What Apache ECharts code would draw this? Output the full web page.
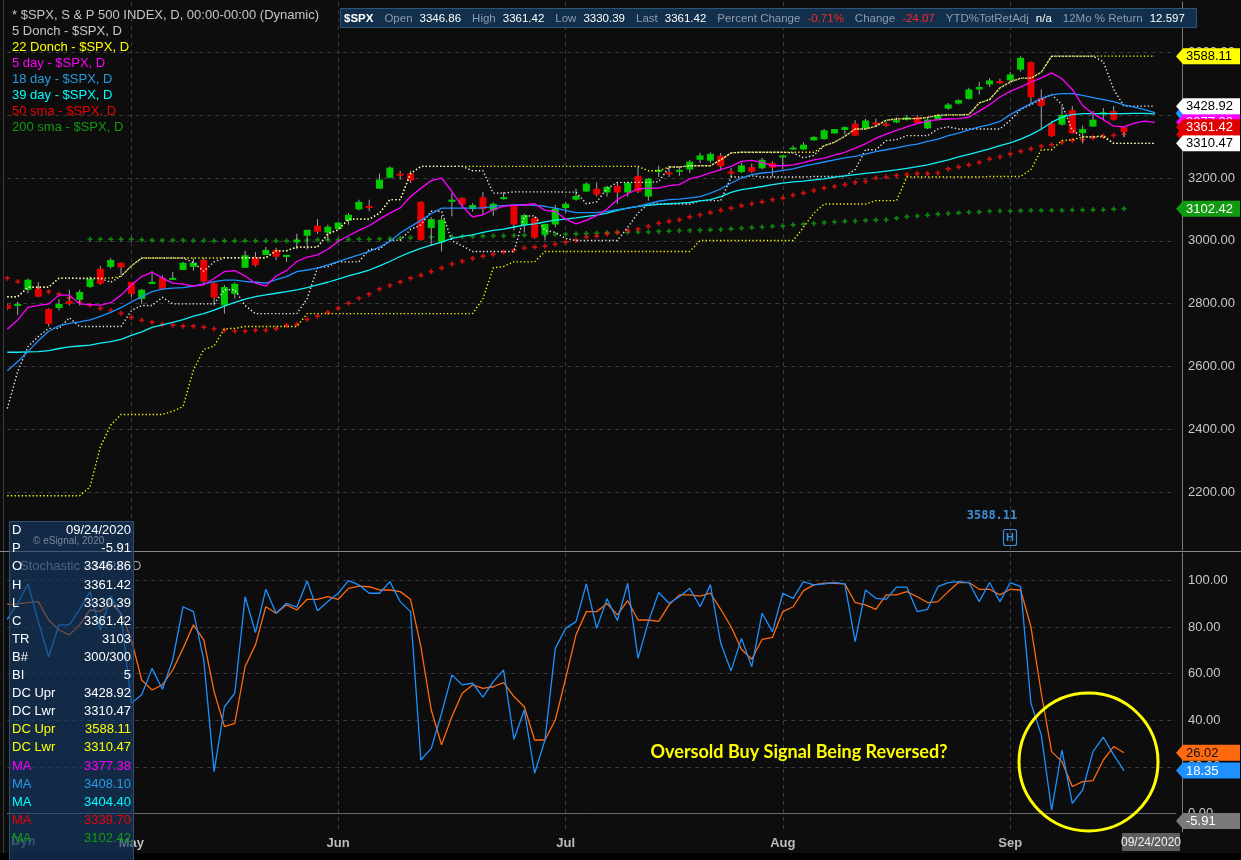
<!DOCTYPE html>
<html>
<head>
<meta charset="utf-8">
<title>$SPX daily with Donchian, MAs and Stochastic</title>
<script src="https://cdn.jsdelivr.net/npm/echarts@6/dist/echarts.min.js"></script>
<style>
  html, body { margin: 0; padding: 0; background: #0d0d0d; }
  #chart { width: 1241px; height: 860px; }
</style>
</head>
<body>
<div id="chart"></div>
<script>
// ---- values; index 0 = leftmost (partly hidden) bar ----
const slotCount = 114;
const monthIdx = [12, 32, 54, 75, 97];
const monthNames = ['May', 'Jun', 'Jul', 'Aug', 'Sep'];

const open = [2797,2794,2844,2846,2783,2786,2808,2812,2853,2911,
  2917,2930,2869,2815,2863,2882,2877,2907,2917,2939,
  2865,2794,2831,2914,2948,2955,2971,2950,2995,3016,
  3048,3026,3038,3064,3100,3111,3166,3201,3214,3214,
  3124,3041,2995,3124,3137,3101,3139,3097,3133,3114,
  3050,3073,3020,3052,3104,3131,3157,3166,3154,3175,
  3154,3207,3141,3221,3218,3221,3227,3258,3255,3271,
  3221,3219,3235,3231,3248,3267,3291,3291,3320,3324,
  3342,3353,3373,3358,3377,3373,3377,3386,3394,3358,
  3386,3421,3437,3452,3482,3498,3509,3511,3545,3569,
  3455,3374,3370,3416,3343,3364,3403,3413,3361.42];
const close = [2783,2799,2876,2822,2735,2799,2799,2837,2879,2863,
  2939,2915,2831,2844,2869,2847,2882,2930,2930,2870,
  2819,2853,2863,2954,2922,2971,2949,2955,3003,3035,
  3029,3045,3058,3083,3124,3106,3195,3233,3208,3192,
  3003,3069,3067,3131,3116,3114,3101,3118,3139,3052,
  3082,3010,3054,3102,3118,3143,3182,3147,3172,3154,
  3185,3157,3198,3226,3212,3226,3252,3272,3277,3237,
  3214,3240,3220,3258,3233,3272,3297,3306,3331,3352,
  3356,3362,3335,3383,3371,3368,3384,3393,3375,3386,
  3399,3434,3448,3482,3490,3511,3502,3530,3583,3457,
  3429,3333,3401,3342,3356,3386,3409,3386,3346.86];
const high = [2800,2806,2880,2868,2785,2814,2844,2844,2887,2920,
  2945,2931,2869,2847,2903,2890,2901,2933,2946,2946,
  2872,2859,2867,2968,2964,2980,2978,2955,3022,3035,
  3069,3051,3060,3088,3131,3131,3214,3237,3223,3223,
  3126,3075,3080,3152,3139,3120,3156,3122,3155,3118,
  3086,3076,3054,3114,3124,3166,3186,3186,3175,3184,
  3188,3235,3200,3239,3239,3237,3258,3280,3282,3280,
  3232,3248,3246,3264,3254,3272,3303,3314,3333,3356,
  3356,3365,3384,3388,3389,3379,3393,3400,3401,3391,
  3402,3439,3450,3487,3506,3518,3516,3537,3588.11,3571,
  3482,3382,3429,3429,3367,3413,3423,3429,3361.42];
const low = [2780,2764,2833,2820,2727,2778,2794,2794,2850,2860,
  2912,2892,2820,2799,2862,2844,2876,2907,2905,2865,
  2794,2768,2816,2914,2918,2955,2939,2933,2973,2973,
  3022,3002,3036,3051,3097,3094,3166,3199,3195,3184,
  3000,2984,2966,3078,3110,3093,3082,3080,3131,3033,
  3027,3007,3001,3043,3088,3128,3156,3141,3141,3117,
  3141,3152,3128,3203,3203,3207,3216,3248,3248,3224,
  3203,3216,3216,3227,3205,3227,3290,3290,3319,3322,
  3341,3339,3335,3356,3363,3363,3375,3383,3375,3356,
  3384,3418,3434,3450,3466,3490,3500,3505,3539,3434,
  3352,3331,3367,3341,3310.47,3363,3388,3383,3330.39];

// indicator lines as drawn (they run 3 bars past the last candle)
const don5Upper = [2822,2822,2852,2852,2852,2881,2881,2880,2880,2880,
  2868,2887,2920,2945,2945,2945,2945,2945,2931,2903,
  2933,2946,2946,2946,2946,2946,2968,2968,2980,2980,
  2980,3022,3035,3069,3069,3069,3088,3131,3131,3214,
  3237,3237,3237,3237,3237,3223,3223,3152,3152,3156,
  3156,3156,3156,3156,3155,3155,3118,3124,3166,3186,
  3186,3186,3186,3188,3235,3235,3239,3239,3239,3258,
  3280,3282,3282,3282,3282,3282,3280,3264,3272,3303,
  3314,3333,3356,3356,3365,3384,3388,3389,3389,3393,
  3400,3401,3401,3402,3439,3450,3487,3506,3518,3518,
  3537,3588,3588,3588,3588,3588,3571,3482,3429,3429,
  3429,3428.92];
const don5Lower = [2466,2583,2663,2695,2721,2721,2755,2727,2727,2727,
  2727,2727,2778,2794,2794,2820,2799,2799,2799,2799,
  2799,2844,2844,2794,2768,2768,2768,2768,2768,2816,
  2914,2918,2933,2933,2933,2973,2973,3002,3002,3036,
  3051,3094,3094,3000,2984,2966,2966,2966,2966,2966,
  3078,3080,3033,3027,3007,3001,3001,3001,3001,3001,
  3043,3088,3117,3117,3117,3117,3117,3128,3128,3128,
  3203,3203,3207,3203,3203,3203,3203,3203,3205,3205,
  3205,3205,3227,3290,3290,3319,3322,3335,3335,3335,
  3356,3363,3356,3356,3356,3356,3356,3384,3418,3434,
  3450,3466,3434,3352,3331,3331,3331,3310.47,3310.47,3310.47,
  3310.47,3310.47];
const don22Upper = [2822,2822,2852,2852,2852,2881,2881,2881,2881,2881,
  2881,2887,2920,2945,2945,2945,2945,2945,2945,2945,
  2945,2946,2946,2946,2946,2946,2968,2968,2980,2980,
  2980,3022,3035,3069,3069,3069,3088,3131,3131,3214,
  3237,3237,3237,3237,3237,3237,3237,3237,3237,3237,
  3237,3237,3237,3237,3237,3237,3237,3237,3237,3237,
  3237,3237,3223,3223,3235,3235,3239,3239,3239,3258,
  3280,3282,3282,3282,3282,3282,3282,3282,3282,3303,
  3314,3333,3356,3356,3365,3384,3388,3389,3389,3393,
  3400,3401,3401,3402,3439,3450,3487,3506,3518,3518,
  3537,3588.11,3588.11,3588.11,3588.11,3588.11,3588.11,3588.11,3588.11,3588.11,
  3588.11,3588.11];
const don22Lower = [2188,2188,2188,2188,2188,2188,2188,2188,2216,2344,
  2413,2447,2447,2447,2447,2447,2457,2472,2588,2654,
  2665,2720,2721,2727,2727,2727,2727,2727,2727,2768,
  2768,2768,2768,2768,2768,2768,2768,2768,2768,2768,
  2768,2768,2768,2768,2768,2768,2816,2914,2918,2933,
  2933,2933,2966,2966,2966,2966,2966,2966,2966,2966,
  2966,2966,2966,2966,2966,2966,2966,3001,3001,3001,
  3001,3001,3001,3001,3001,3001,3001,3043,3088,3117,
  3117,3117,3117,3117,3128,3128,3128,3203,3203,3203,
  3203,3203,3203,3203,3203,3205,3205,3205,3205,3227,
  3290,3290,3319,3322,3331,3331,3335,3310.47,3310.47,3310.47,
  3310.47,3310.47];
const ma5 = [2718,2748,2788,2794,2799,2827,2827,2799,2797,2795,
  2803,2827,2859,2886,2900,2881,2865,2862,2856,2860,
  2880,2902,2905,2888,2865,2856,2888,2905,2934,2948,
  2955,2973,2998,3016,3033,3048,3069,3088,3105,3141,
  3167,3192,3200,3157,3110,3076,3083,3099,3110,3113,
  3114,3118,3097,3094,3069,3054,3065,3080,3101,3131,
  3150,3165,3168,3168,3176,3179,3197,3205,3216,3227,
  3237,3253,3256,3250,3239,3239,3242,3249,3258,3263,
  3273,3282,3295,3309,3326,3340,3352,3363,3373,3381,
  3386,3388,3389,3394,3413,3433,3458,3476,3490,3505,
  3519,3535,3516,3482,3431,3405,3386,3365,3363,3375,
  3381,3377.38];
const ma18 = [2586,2615,2647,2682,2712,2729,2737,2742,2748,2759,
  2772,2787,2805,2822,2838,2846,2849,2851,2856,2863,
  2870,2875,2875,2871,2868,2865,2876,2886,2902,2907,
  2913,2923,2934,2945,2955,2966,2980,2998,3025,3045,
  3065,3086,3104,3104,3104,3104,3105,3110,3112,3114,
  3115,3113,3110,3104,3097,3090,3090,3090,3094,3099,
  3104,3110,3118,3126,3131,3133,3137,3141,3152,3165,
  3184,3200,3211,3216,3219,3224,3229,3238,3244,3251,
  3258,3264,3269,3276,3284,3290,3296,3303,3308,3317,
  3324,3335,3343,3353,3363,3370,3380,3402,3420,3437,
  3454,3465,3469,3469,3463,3456,3450,3443,3433,3426,
  3418,3408.10];
const ma39 = [2645,2645,2646,2647,2650,2657,2662,2665,2668,2674,
  2679,2686,2699,2710,2724,2732,2740,2749,2760,2768,
  2779,2792,2804,2814,2822,2828,2833,2838,2844,2851,
  2860,2868,2878,2888,2897,2907,2920,2934,2950,2964,
  2976,2986,2996,3008,3014,3019,3027,3033,3037,3044,
  3050,3054,3060,3066,3069,3073,3078,3082,3088,3097,
  3104,3110,3113,3116,3118,3120,3122,3127,3131,3141,
  3154,3163,3168,3173,3179,3184,3188,3190,3194,3197,
  3203,3207,3211,3215,3218,3222,3226,3231,3236,3242,
  3250,3258,3267,3275,3284,3293,3303,3312,3324,3338,
  3356,3377,3394,3402,3405,3405,3405,3405,3405,3406,
  3406,3404.40];
const sma50 = [2881,2870,2860,2849,2838,2830,2818,2806,2795,2785,
  2778,2769,2756,2747,2741,2734,2731,2728,2728,2725,
  2720,2715,2712,2712,2715,2715,2720,2731,2734,2750,
  2760,2772,2785,2801,2817,2830,2846,2858,2869,2881,
  2890,2902,2913,2926,2935,2944,2951,2957,2964,2970,
  2977,2980,2983,2989,2996,3002,3012,3015,3022,3027,
  3033,3037,3046,3056,3062,3067,3076,3083,3090,3097,
  3104,3112,3118,3124,3131,3136,3145,3152,3160,3168,
  3173,3179,3186,3189,3200,3203,3208,3211,3214,3214,
  3216,3229,3235,3242,3250,3261,3267,3277,3285,3293,
  3301,3306,3314,3320,3322,3328,3333,3336,3339.70];
const sma200 = [null,null,null,null,null,null,null,null,3005,3005,
  3005,3005,3005,3003,3002,3002,3002,3002,3001,3001,
  3000,3000,3000,3000,3000,3000,3000,3000,3002,3002,
  3003,3003,3003,3004,3005,3005,3006,3007,3008,3010,
  3011,3012,3012,3013,3014,3014,3015,3016,3016,3017,
  3018,3019,3019,3020,3021,3022,3023,3024,3026,3027,
  3027,3028,3028,3030,3031,3032,3033,3034,3035,3036,
  3038,3040,3042,3044,3046,3048,3051,3053,3055,3058,
  3060,3062,3063,3065,3066,3067,3072,3077,3079,3082,
  3085,3087,3089,3091,3092,3094,3095,3095,3096,3097,
  3097,3097,3097,3098,3098,3099,3099,3101,3102.42];

// stochastic %K (blue) and %D (orange)
const stochK = [83.4,90.3,98.6,82.4,67.3,81,81,87.7,95.3,78.8,
  93.4,85.3,47.3,51,62.3,53.3,66,88.8,86.7,66,
  17.9,45.8,51.6,93.1,77.7,96.3,86,90.3,88.6,99.9,
  87.1,91,94.6,100,98.2,94.6,94.6,99.6,91,86.7,
  22.9,27.9,43,59.5,55.2,55.9,49.9,56.6,61.6,31.8,
  44.4,17.2,31.5,70.9,79.5,82.4,98.6,79.5,92.2,82.9,
  98.9,66.6,82.4,94.9,90.3,93.1,96.7,88.8,98.2,73.1,
  61.2,75.2,63,86,78.1,94.6,92.4,99.6,98.2,98.6,
  99.2,98.6,73.8,96,92.4,92,97.2,97.2,86.7,87.7,
  97.4,99.2,99.6,99.2,91,99.2,91,99.2,97.4,47.3,
  33.7,1.4,27.2,4.3,10,26.5,32.7,25.1,18.35];
const stochD = [89.8,90,90.6,91,83.1,78.8,76.7,81,87.4,86.7,
  90.3,86,74.5,57.3,53,55.2,61.6,70.9,81,74.5,
  52.3,37.3,38.7,63.1,72.4,88.8,86,89.6,87.4,92,
  92,93.1,92,96.7,97.7,97.4,96,96,95.3,92,
  71.6,44.4,29.4,41.6,51.6,55.2,53.7,54.4,56.2,50.2,
  45.8,31.5,31.5,40.1,58,76.7,86.7,86.7,90.2,85.3,
  91.4,83.1,83.1,82.5,89.6,93.9,93.9,93.4,94.6,87.7,
  80.2,70.5,66.2,74.8,75.6,86.7,88.8,95.7,98.2,98.9,
  98.9,98.6,90.6,89.6,87.7,93.9,93.9,95.3,93.1,90.6,
  91,95.3,99.2,99.2,96.3,96.3,93.9,96.3,96,80.2,
  51.6,26.5,22.2,11.5,13.6,14,22.9,28.7,26.02];

// right-edge value tags (drawn bottom to top)
const priceTagValues = [3102.42, 3339.70, 3404.40, 3408.10, 3377.38, 3428.92, 3310.47, 3361.42, 3588.11];
const stochTagValues = [26.02, 18.35, -5.91];

// texts
const legendLines = ['* $SPX, S & P 500 INDEX, D, 00:00-00:00 (Dynamic)', '5 Donch - $SPX, D', '22 Donch - $SPX, D',
  '5 day - $SPX, D', '18 day - $SPX, D', '39 day - $SPX, D', '50 sma - $SPX, D', '200 sma - $SPX, D'];
const quoteSymbol = '$SPX';
const quoteLabels = ['Open', 'High', 'Low', 'Last', 'Percent Change', 'Change', 'YTD%TotRetAdj', '12Mo % Return'];
const quoteValues = ['3346.86', '3361.42', '3330.39', '3361.42', '-0.71%', '-24.07', 'n/a', '12.597'];
const infoLabels = ['D', 'P', 'O', 'H', 'L', 'C', 'TR', 'B#', 'BI', 'DC Upr', 'DC Lwr', 'DC Upr', 'DC Lwr', 'MA', 'MA', 'MA', 'MA', 'MA'];
const infoValues = ['09/24/2020', '-5.91', '3346.86', '3361.42', '3330.39', '3361.42', '3103', '300/300', '5',
  '3428.92', '3310.47', '3588.11', '3310.47', '3377.38', '3408.10', '3404.40', '3339.70', '3102.42'];
const noteText = 'Oversold Buy Signal Being Reversed?';
const highMarkText = '3588.11';
const cursorDate = '09/24/2020';

// ---- chart ----
const FONT = '"Liberation Sans", Arial, sans-serif';
const cats = Array.from({ length: slotCount }, (_, i) => String(i));
const candleData = open.map((o, i) => [i, o, close[i], low[i], high[i]]);
const isMonth = (i) => monthIdx.indexOf(i) >= 0;

const chart = echarts.init(document.getElementById('chart'));

function xAxisFor(gridIndex, showLabels) {
  return {
    type: 'category', gridIndex: gridIndex, data: cats, boundaryGap: false,
    axisLine: { show: showLabels, lineStyle: { color: '#6a6a6a' } },
    axisTick: { show: false },
    axisLabel: {
      show: showLabels, interval: (i) => isMonth(i),
      formatter: (v) => monthNames[monthIdx.indexOf(+v)] || '',
      color: '#bdbdbd', fontSize: 13, fontWeight: 'bold', fontFamily: FONT, margin: 5
    },
    splitLine: { show: true, interval: (i) => isMonth(i), lineStyle: { color: '#3b3b3b', type: [4, 4] } }
  };
}

function yAxisFor(gridIndex, min, max, splitNumber) {
  return {
    type: 'value', gridIndex: gridIndex, position: 'right', offset: 6.3,
    min: min, max: max, splitNumber: splitNumber,
    axisLine: { show: true, lineStyle: { color: '#7a7a7a' } },
    axisTick: { show: false },
    axisLabel: {
      color: '#c8c8c8', fontSize: 13, fontFamily: FONT, margin: 6,
      showMinLabel: false, showMaxLabel: false, formatter: (v) => v.toFixed(2)
    },
    splitLine: { show: true, showMinLine: false, showMaxLine: false, lineStyle: { color: '#3b3b3b', type: [4, 4] } }
  };
}

function lineSeries(data, color, dotted, xi) {
  return {
    type: 'line', data: data, xAxisIndex: xi || 0, yAxisIndex: xi || 0, z: 3,
    symbol: 'none', silent: true, connectNulls: false,
    lineStyle: { color: color, width: dotted ? 1.4 : 1.3, type: dotted ? [1.3, 2.3] : 'solid' }
  };
}

const plus = 'path://M2,0h2v2h2v2h-2v2h-2v-2h-2v-2h2z';

chart.setOption({
  backgroundColor: '#0d0d0d',
  animation: false,
  grid: [
    { left: 7.3, top: 2, width: 1168.4, height: 548, containLabel: false, outerBoundsMode: 'none' },
    { left: 7.3, top: 553, width: 1168.4, height: 279, containLabel: false, outerBoundsMode: 'none' }
  ],
  xAxis: [xAxisFor(0, false), xAxisFor(1, true)],
  yAxis: [yAxisFor(0, 2015.2, 3760.6, 9), yAxisFor(1, -8.05, 111.9, 6)],
  series: [
    { type: 'scatter', data: sma200, symbol: plus, symbolSize: 5, z: 1, silent: true, itemStyle: { color: '#12a012' } },
    { type: 'scatter', data: sma50, symbol: plus, symbolSize: 5, z: 1, silent: true, itemStyle: { color: '#ff1010' } },
    {
      type: 'custom', name: '$SPX', data: candleData, z: 2, clip: true, silent: true,
      encode: { x: 0, y: [1, 2, 3, 4] },
      renderItem: function (params, api) {
        const i = api.value(0);
        const o = api.value(1), c = api.value(2), l = api.value(3), h = api.value(4);
        const pO = api.coord([i, o]), pC = api.coord([i, c]);
        const pL = api.coord([i, l]), pH = api.coord([i, h]);
        const w = api.size([1, 0])[0] * 0.68;
        const top = Math.min(pO[1], pC[1]);
        const bh = Math.max(2, Math.abs(pO[1] - pC[1]));
        return {
          type: 'group',
          children: [
            { type: 'line', shape: { x1: pL[0], y1: pL[1], x2: pH[0], y2: pH[1] }, style: { stroke: '#a3a3a3', lineWidth: 1 } },
            { type: 'rect', shape: { x: pO[0] - w / 2, y: top, width: w, height: bh }, style: { fill: c >= o ? '#00cc00' : '#e80000' } }
          ]
        };
      }
    },
    lineSeries(don22Lower, '#ffff00', true),
    lineSeries(don22Upper, '#ffff00', true),
    lineSeries(don5Lower, '#f0f0f0', true),
    lineSeries(don5Upper, '#f0f0f0', true),
    lineSeries(ma39, '#10f0f8', false),
    lineSeries(ma18, '#1e90ff', false),
    lineSeries(ma5, '#ff00ff', false),
    lineSeries(stochD, '#ff6a10', false, 1),
    lineSeries(stochK, '#1e90ff', false, 1)
  ]
});

// ---- overlays ----
function txt(text, x, y, fill, font, align, z) {
  return {
    type: 'text', z: z || 100, silent: true,
    style: { text: text, x: x, y: y, fill: fill, font: font, textAlign: align || 'left', align: align || 'left',
      textVerticalAlign: 'middle', verticalAlign: 'middle' }
  };
}

function tag(y, label, bg, fg, z) {
  return [
    { type: 'polygon', z: z, silent: true,
      shape: { points: [[1176, y], [1183, y - 8], [1240, y - 8], [1240, y + 8], [1183, y + 8]] }, style: { fill: bg } },
    txt(label, 1186, y + 0.5, fg, '13px ' + FONT, 'left', z + 1)
  ];
}

const g = [];
// frame and separators
g.push({ type: 'rect', z: 5, silent: true, shape: { x: 0, y: 853, width: 1241, height: 7 }, style: { fill: '#000' } });
g.push({ type: 'line', z: 6, silent: true, shape: { x1: 3.5, y1: 0, x2: 3.5, y2: 853 }, style: { stroke: '#3c3c3c', lineWidth: 1 } });
g.push({ type: 'line', z: 6, silent: true, shape: { x1: 0, y1: 551.5, x2: 1241, y2: 551.5 }, style: { stroke: '#8a8a8a', lineWidth: 1 } });

// legend block
const legendColors = ['#c6c6c6', '#c6c6c6', '#ffff00', '#ff00ff', '#2a9ae0', '#00ffff', '#ee0000', '#139a13'];
legendLines.forEach((s, k) => g.push(txt(s, 12, 15 + 16 * k, legendColors[k], '13px ' + FONT)));

// quote header
g.push({ type: 'rect', z: 99, silent: true, shape: { x: 340.5, y: 8.5, width: 856, height: 19 }, style: { fill: '#12304c', stroke: '#2c5677', lineWidth: 1 } });
let rt = '{s|' + quoteSymbol + '}';
quoteLabels.forEach((k, j) => {
  const v = quoteValues[j];
  rt += '{l|' + k + '}{' + (v.charAt(0) === '-' ? 'n' : 'v') + '|' + v + '}';
});
g.push({
  type: 'text', z: 100, silent: true,
  style: {
    text: rt, x: 344, y: 18.5, textVerticalAlign: 'middle', verticalAlign: 'middle', font: '11.5px ' + FONT,
    rich: {
      s: { fill: '#ffffff', fontWeight: 'bold', fontSize: 11.5, fontFamily: FONT },
      l: { fill: '#8d9bab', fontSize: 11.5, fontFamily: FONT, padding: [0, 0, 0, 11] },
      v: { fill: '#ffffff', fontSize: 11.5, fontFamily: FONT, padding: [0, 0, 0, 7] },
      n: { fill: '#ff2626', fontSize: 11.5, fontFamily: FONT, padding: [0, 0, 0, 7] }
    }
  }
});

// stochastic title (sits under the data window)
g.push(txt('Stochastic - $SPX, D', 20, 566, '#a2a2a2', '13px ' + FONT, 'left', 60));

// data window
g.push({ type: 'rect', z: 70, silent: true, shape: { x: 9.5, y: 521.5, width: 124, height: 345 }, style: { fill: 'rgba(23,61,106,0.62)', stroke: '#2e4e72', lineWidth: 1 } });
g.push(txt('\u00a9 eSignal, 2020', 33, 541, 'rgba(175,185,195,0.65)', '10px ' + FONT, 'left', 72));
const infoColors = ['#fff', '#fff', '#fff', '#fff', '#fff', '#fff', '#fff', '#fff', '#fff', '#fff', '#fff',
  '#ffff00', '#ffff00', '#ff00ff', '#2a9ae0', '#00ffff', '#ee0000', '#139a13'];
infoLabels.forEach((s, k) => {
  const y = 530.7 + 18.1 * k;
  g.push(txt(s, 12, y, infoColors[k], '13px ' + FONT, 'left', 75));
  g.push(txt(infoValues[k], 131, y, infoColors[k], '13px ' + FONT, 'right', 75));
});
g.push(txt('Dyn', 11, 841, 'rgba(60,95,135,0.8)', 'bold 13px ' + FONT, 'left', 74));

// price tags
const priceTagStyle = [
  ['#0f9a0f', '#fff'], ['#e00000', '#fff'], ['#10e8f0', '#000'], ['#1e90ff', '#fff'], ['#ff00ff', '#fff'],
  ['#ffffff', '#000'], ['#ffffff', '#000'], ['#e00000', '#fff'], ['#ffff00', '#000']
];
priceTagValues.forEach((v, k) => {
  const y = chart.convertToPixel({ yAxisIndex: 0 }, v);
  tag(y, v.toFixed(2), priceTagStyle[k][0], priceTagStyle[k][1], 110 + 2 * k).forEach((e) => g.push(e));
});
// stochastic tags
const stochTagStyle = [['#ff6a10', '#111'], ['#1e90ff', '#fff'], ['#7a7a7a', '#fff']];
stochTagValues.forEach((v, k) => {
  const y = Math.min(chart.convertToPixel({ yAxisIndex: 1 }, v), 821);
  tag(y, v.toFixed(2), stochTagStyle[k][0], stochTagStyle[k][1], 140 + 2 * k).forEach((e) => g.push(e));
});

// cursor date box
g.push({ type: 'rect', z: 100, silent: true, shape: { x: 1122, y: 833, width: 58, height: 18 }, style: { fill: '#5e5e5e' } });
g.push(txt(cursorDate, 1151, 842.5, '#f2f2f2', '12px ' + FONT, 'center', 101));

// swing-high marker
g.push(txt(highMarkText, 992, 516, '#3d8fd8', 'bold 12px "DejaVu Sans Mono", monospace', 'center', 100));
g.push({ type: 'rect', z: 100, silent: true, shape: { x: 1003.5, y: 529.5, width: 13, height: 16, r: 2 }, style: { fill: 'none', stroke: '#3d8fd8', lineWidth: 1.2 } });
g.push(txt('H', 1010, 538, '#3d8fd8', 'bold 11px ' + FONT, 'center', 101));

// annotation
g.push(txt(noteText, 799, 752, '#ffff00', 'bold 18px Lato, "Open Sans", sans-serif', 'center', 100));
g.push({ type: 'ellipse', z: 100, silent: true, shape: { cx: 1088.5, cy: 762, rx: 69.5, ry: 69 }, style: { fill: 'none', stroke: '#ffff00', lineWidth: 3 } });

chart.setOption({ graphic: { elements: g } });
</script>
</body>
</html>
